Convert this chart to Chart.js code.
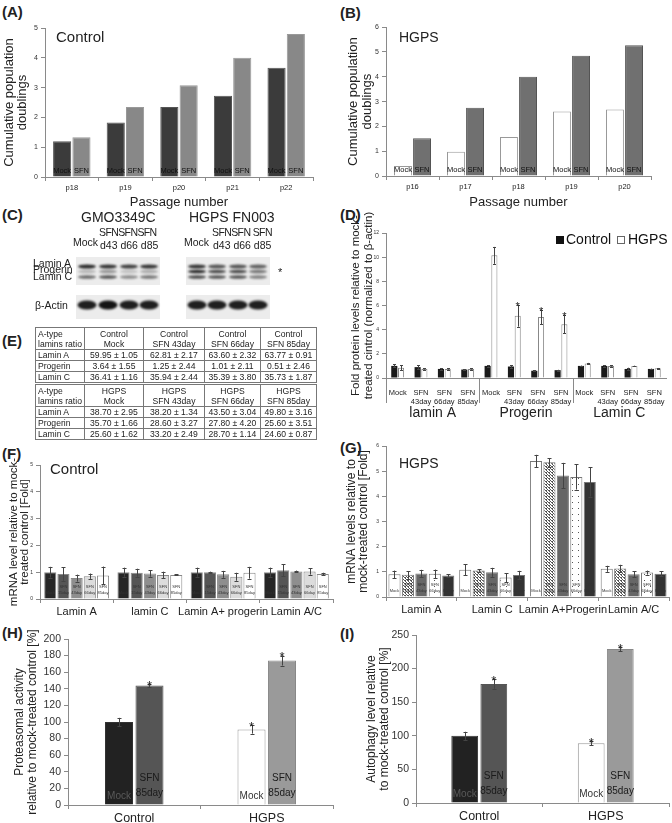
<!DOCTYPE html>
<html>
<head>
<meta charset="utf-8">
<script src="https://cdn.jsdelivr.net/npm/chart.js@4.4.1/dist/chart.umd.min.js"></script>
<style>
body { margin: 0; background: #fff; font-family: Arial, "Liberation Sans", sans-serif; color: #222; }
#wrap { position: relative; width: 672px; height: 823px; overflow: hidden; }
canvas { position: absolute; }
.t { position: absolute; white-space: nowrap; line-height: 1; }
.p { position: absolute; font-weight: bold; font-size: 15px; line-height: 1; }
table.e { position: absolute; border-collapse: collapse; font-size: 8.6px; line-height: 10px; }
table.e td { border: 1px solid #777; padding: 0 2px; text-align: center; white-space: nowrap; }
table.e td.n { text-align: left; }
</style>
</head>
<body>
<div id="wrap">
  <div class="p" style="left:2px;top:4px">(A)</div>
  <div class="p" style="left:340px;top:5px">(B)</div>
  <div class="p" style="left:2px;top:207px">(C)</div>
  <div class="p" style="left:340px;top:207px">(D)</div>
  <div class="p" style="left:2px;top:333px">(E)</div>
  <div class="p" style="left:2px;top:446px">(F)</div>
  <div class="p" style="left:340px;top:440px">(G)</div>
  <div class="p" style="left:2px;top:625px">(H)</div>
  <div class="p" style="left:340px;top:626px">(I)</div>

  <canvas id="cA" width="330" height="190" style="left:0;top:20px"></canvas>
  <canvas id="cB" width="336" height="190" style="left:336px;top:20px"></canvas>
  <canvas id="cD" width="336" height="210" style="left:336px;top:210px"></canvas>
  <canvas id="cF" width="336" height="175" style="left:0;top:445px"></canvas>
  <canvas id="cG" width="336" height="180" style="left:336px;top:440px"></canvas>
  <canvas id="cH" width="336" height="203" style="left:0;top:620px"></canvas>
  <canvas id="cI" width="336" height="203" style="left:336px;top:620px"></canvas>
  <canvas id="blot" width="220" height="75" style="left:70px;top:250px"></canvas>

  <div class="t" style="left:56px;top:29px;font-size:15px">Control</div>
  <div class="t" style="left:399px;top:30px;font-size:14px">HGPS</div>
  <div class="t" style="left:50px;top:461px;font-size:15px">Control</div>
  <div class="t" style="left:399px;top:456px;font-size:14px">HGPS</div>

  <!-- western blot labels -->
  <div class="t" style="left:81px;top:210px;font-size:14px">GMO3349C</div>
  <div class="t" style="left:189px;top:210px;font-size:14px">HGPS FN003</div>
  <div class="t" style="left:73px;top:237px;font-size:10.5px">Mock</div>
  <div class="t" style="left:99px;top:227px;font-size:10.5px;letter-spacing:-0.6px">SFNSFNSFN</div>
  <div class="t" style="left:100px;top:240px;font-size:10.5px">d43 d66 d85</div>
  <div class="t" style="left:184px;top:237px;font-size:10.5px">Mock</div>
  <div class="t" style="left:212px;top:227px;font-size:10.5px;letter-spacing:-0.6px">SFNSFN SFN</div>
  <div class="t" style="left:213px;top:240px;font-size:10.5px">d43 d66 d85</div>
  <div class="t" style="left:33px;top:258px;font-size:10.5px">Lamin A</div>
  <div class="t" style="left:33px;top:264px;font-size:10.5px">Progerin</div>
  <div class="t" style="left:33px;top:271px;font-size:10.5px">Lamin C</div>
  <div class="t" style="left:35px;top:300px;font-size:10.5px">β-Actin</div>
  <div class="t" style="left:278px;top:267px;font-size:11px">*</div>

  <table class="e" id="tE" style="left:35px;top:327px"></table>
</div>

<script>
// ---- data ----
var labelsA = ['p18', 'p19', 'p20', 'p21', 'p22'];
var mockA = [1.2, 1.83, 2.35, 2.73, 3.67];
var sfnA = [1.33, 2.35, 3.08, 4.0, 4.8];

var labelsB = ['p16', 'p17', 'p18', 'p19', 'p20'];
var mockB = [0.4, 0.98, 1.57, 2.6, 2.68];
var sfnB = [1.52, 2.75, 4.0, 4.85, 5.27];

var groupsD = ['lamin A', 'Progerin', 'Lamin C'];
var treatD = [['Mock'], ['SFN', '43day'], ['SFN', '66day'], ['SFN', '85day']];
var controlD = [1.0, 0.9, 0.75, 0.7, 1.0, 0.95, 0.6, 0.65, 1.0, 1.0, 0.75, 0.75];
var controlErrD = [0.12, 0.15, 0.05, 0.04, 0.05, 0.1, 0.03, 0.03, 0.03, 0.05, 0.1, 0.03];
var hgpsD = [0.85, 0.75, 0.75, 0.75, 10.15, 5.15, 5.05, 4.45, 1.2, 1.0, 1.0, 0.8];
var hgpsErrD = [0.2, 0.05, 0.05, 0.05, 0.7, 0.9, 0.6, 0.75, 0.05, 0.05, 0.02, 0.03];
var hgpsStarD = [0, 0, 0, 0, 0, 1, 1, 1, 0, 0, 0, 0];

var headE1 = [['A-type', 'lamins ratio'], ['Control', 'Mock'], ['Control', 'SFN 43day'], ['Control', 'SFN 66day'], ['Control', 'SFN 85day']];
var rowsE1 = [
  ['Lamin A', '59.95 ± 1.05', '62.81 ± 2.17', '63.60 ± 2.32', '63.77 ± 0.91'],
  ['Progerin', '3.64 ± 1.55', '1.25 ± 2.44', '1.01 ± 2.11', '0.51 ± 2.46'],
  ['Lamin C', '36.41 ± 1.16', '35.94 ± 2.44', '35.39 ± 3.80', '35.73 ± 1.87']
];
var headE2 = [['A-type', 'lamins ratio'], ['HGPS', 'Mock'], ['HGPS', 'SFN 43day'], ['HGPS', 'SFN 66day'], ['HGPS', 'SFN 85day']];
var rowsE2 = [
  ['Lamin A', '38.70 ± 2.95', '38.20 ± 1.34', '43.50 ± 3.04', '49.80 ± 3.16'],
  ['Progerin', '35.70 ± 1.66', '28.60 ± 3.27', '27.80 ± 4.20', '25.60 ± 3.51'],
  ['Lamin C', '25.60 ± 1.62', '33.20 ± 2.49', '28.70 ± 1.14', '24.60 ± 0.87']
];

var genesF = ['Lamin A', 'lamin C', 'Lamin A+ progerin', 'Lamin A/C'];
var treatF = [['Mock'], ['SFN', '15day'], ['SFN', '43day'], ['SFN', '66day'], ['SFN', '85day']];
var valsF = [[1.0, 1.0, 1.0, 1.0], [0.93, 0.98, 1.0, 1.07], [0.78, 0.95, 0.92, 1.03], [0.85, 0.9, 0.83, 1.03], [0.88, 0.9, 0.98, 0.93]];
var errF = [[0.2, 0.17, 0.17, 0.17], [0.25, 0.15, 0.02, 0.22], [0.13, 0.12, 0.13, 0.03], [0.1, 0.12, 0.15, 0.12], [0.33, 0.02, 0.22, 0.05]];

var genesG = ['Lamin A', 'Lamin C', 'Lamin A+Progerin', 'Lamin A/C'];
var valsG = [[0.9, 1.08, 5.4, 1.12], [0.88, 1.05, 5.35, 1.13], [0.93, 0.98, 4.83, 0.9], [0.92, 0.77, 4.77, 0.97], [0.85, 0.87, 4.57, 0.92]];
var errG = [[0.15, 0.22, 0.25, 0.12], [0.15, 0.05, 0.17, 0.15], [0.15, 0.18, 0.5, 0.12], [0.17, 0.18, 0.5, 0.08], [0.05, 0.17, 0.58, 0.1]];

var cellsHI = ['Control', 'HGPS'];
var mockH = [100, 91];
var mockErrH = [5, 5];
var sfnH = [144, 174];
var sfnErrH = [2, 6];
var mockI = [100, 89];
var mockErrI = [6, 3];
var sfnI = [177, 229];
var sfnErrI = [7, 3];
var mockStarHI = [0, 1];
var sfnStarHI = [1, 1];

// western blot band intensities (lanes: 4 GMO3349C + 4 HGPS)
var bandLaminA = [0.9, 0.85, 0.8, 0.85, 0.85, 0.7, 0.7, 0.65];
var bandProgerin = [0.25, 0.4, 0.2, 0.3, 0.9, 0.75, 0.75, 0.55];
var bandLaminC = [0.6, 0.7, 0.45, 0.55, 0.75, 0.7, 0.7, 0.5];
var bandActin = [0.95, 1, 0.95, 0.95, 0.95, 0.95, 0.95, 0.95];

// ---- helpers ----
var FONT = 'Arial, "Liberation Sans", sans-serif';
var AX = '#8a8a8a';

var extras = {
  id: 'extras',
  afterDatasetsDraw: function (chart) {
    var ctx = chart.ctx, ys = chart.scales.y;
    chart.data.datasets.forEach(function (ds, i) {
      var meta = chart.getDatasetMeta(i);
      meta.data.forEach(function (bar, j) {
        var v = ds.data[j];
        var top = bar.y;
        ctx.save();
        if (ds.err) {
          var e = ds.err[j];
          top = ys.getPixelForValue(v + e);
          var bot = ys.getPixelForValue(v - e);
          var cw = ds.capW || 2;
          ctx.strokeStyle = '#444';
          ctx.lineWidth = 1;
          ctx.beginPath();
          ctx.moveTo(Math.round(bar.x) + 0.5, top);
          ctx.lineTo(Math.round(bar.x) + 0.5, bot);
          ctx.moveTo(Math.round(bar.x) - cw + 0.5, Math.round(top) + 0.5);
          ctx.lineTo(Math.round(bar.x) + cw + 0.5, Math.round(top) + 0.5);
          ctx.moveTo(Math.round(bar.x) - cw + 0.5, Math.round(bot) + 0.5);
          ctx.lineTo(Math.round(bar.x) + cw + 0.5, Math.round(bot) + 0.5);
          ctx.stroke();
        }
        if (ds.star && ds.star[j]) {
          ctx.fillStyle = '#222';
          ctx.font = (ds.starSize || 12) + 'px ' + FONT;
          ctx.textAlign = 'center';
          ctx.textBaseline = 'alphabetic';
          ctx.fillText('*', bar.x, top + (ds.starSize || 12) * 0.45);
        }
        if (ds.inner) {
          var ic = ds.innerColor || '#111';
          ctx.fillStyle = Array.isArray(ic) ? ic[j] : ic;
          ctx.font = ds.innerFont;
          ctx.textAlign = 'center';
          ctx.textBaseline = 'middle';
          ds.inner.forEach(function (txt, k) {
            ctx.fillText(txt, bar.x, bar.base - ds.innerOff[k]);
          });
        }
        ctx.restore();
      });
    });
  }
};
Chart.register(extras);

function yAxis(w, max, step, tickFont, title, titleFont, titlePad, lh) {
  return {
    min: 0, max: max,
    afterFit: function (s) { s.width = w; },
    ticks: { stepSize: step, font: { size: tickFont, family: FONT }, color: '#333', padding: 3 },
    grid: { drawOnChartArea: false, tickLength: 4, color: AX },
    border: { color: AX },
    title: { display: true, text: title, color: '#222', font: { size: titleFont, family: FONT, lineHeight: lh }, padding: { top: titlePad, bottom: 0 } }
  };
}

function xAxis(h, tickFont, title, titleFont) {
  var o = {
    afterFit: function (s) { s.height = h; },
    ticks: { font: { size: tickFont, family: FONT }, color: '#222', padding: 2, maxRotation: 0, autoSkip: false },
    grid: { drawOnChartArea: false, tickLength: 4, color: AX },
    border: { color: AX }
  };
  if (title) {
    o.title = { display: true, text: title, color: '#222', font: { size: titleFont, family: FONT }, padding: { top: 0, bottom: 0 } };
  }
  return o;
}

function baseOpts(pad, x, y) {
  return {
    responsive: false, animation: false, devicePixelRatio: 1,
    layout: { padding: pad },
    plugins: { legend: { display: false }, tooltip: { enabled: false } },
    scales: { x: x, y: y }
  };
}

// ---- (A) ----
new Chart(document.getElementById('cA').getContext('2d'), {
  type: 'bar',
  data: {
    labels: labelsA,
    datasets: [
      { label: 'Mock', data: mockA, backgroundColor: '#3b3b3b', borderColor: '#555', borderWidth: 1, categoryPercentage: 0.72, barPercentage: 0.94, inner: ['Mock'], innerOff: [6], innerFont: '7.5px ' + FONT },
      { label: 'SFN', data: sfnA, backgroundColor: '#888', borderColor: '#999', borderWidth: 1, categoryPercentage: 0.72, barPercentage: 0.94, inner: ['SFN'], innerOff: [6], innerFont: '7.5px ' + FONT }
    ]
  },
  options: baseOpts({ top: 8, right: 17, left: 0, bottom: 0 },
    xAxis(33, 7.5, 'Passage number', 13),
    yAxis(45, 5, 1, 7, ['Cumulative population', 'doublings'], 13, 3, 1.0))
});

// ---- (B) ----
new Chart(document.getElementById('cB').getContext('2d'), {
  type: 'bar',
  data: {
    labels: labelsB,
    datasets: [
      { label: 'Mock', data: mockB, backgroundColor: '#fff', borderColor: '#999', borderWidth: 1, categoryPercentage: 0.72, barPercentage: 0.94, inner: ['Mock'], innerOff: [6], innerFont: '7.5px ' + FONT },
      { label: 'SFN', data: sfnB, backgroundColor: '#707070', borderColor: '#555', borderWidth: 1, categoryPercentage: 0.72, barPercentage: 0.94, inner: ['SFN'], innerOff: [6], innerFont: '7.5px ' + FONT }
    ]
  },
  options: baseOpts({ top: 6, right: 21, left: 0, bottom: 0 },
    xAxis(34, 7.5, 'Passage number', 13),
    yAxis(50, 6, 1, 7, ['Cumulative population', 'doublings'], 13, 10, 1.1))
});

// ---- (D) ----
var labelsD = [];
groupsD.forEach(function () { treatD.forEach(function (t) { labelsD.push(t); }); });
var groupPlugin = {
  id: 'groupsD',
  afterDraw: function (chart) {
    var ctx = chart.ctx, xs = chart.scales.x, ca = chart.chartArea;
    ctx.save();
    ctx.strokeStyle = AX;
    ctx.lineWidth = 1;
    ctx.beginPath();
    [0, 4, 8].forEach(function (k) {
      var px = k === 0 ? ca.left : (xs.getPixelForValue(k - 1) + xs.getPixelForValue(k)) / 2;
      px = Math.round(px) + 0.5;
      ctx.moveTo(px, ca.bottom);
      ctx.lineTo(px, ca.bottom + 25);
    });
    ctx.stroke();
    ctx.fillStyle = '#222';
    ctx.font = '14px ' + FONT;
    ctx.textAlign = 'center';
    ctx.textBaseline = 'middle';
    groupsD.forEach(function (g, i) {
      var px = (xs.getPixelForValue(i * 4 + 1) + xs.getPixelForValue(i * 4 + 2)) / 2;
      ctx.fillText(g, px, ca.bottom + 35);
    });
    // legend
    ctx.textAlign = 'left';
    ctx.fillStyle = '#111';
    ctx.fillRect(556 - 336, 240 - 210 - 4, 8, 8);
    ctx.fillText('Control', 566 - 336, 240 - 210);
    ctx.strokeStyle = '#666';
    ctx.strokeRect(617.5 - 336, 240 - 210 - 3.5, 7, 7);
    ctx.fillText('HGPS', 628 - 336, 240 - 210);
    ctx.restore();
  }
};
var xD = xAxis(42, 7.5);
xD.grid = { display: false };
new Chart(document.getElementById('cD').getContext('2d'), {
  type: 'bar',
  data: {
    labels: labelsD,
    datasets: [
      { label: 'Control', data: controlD, err: controlErrD, backgroundColor: '#1a1a1a', borderColor: '#1a1a1a', borderWidth: 0, categoryPercentage: 0.58, barPercentage: 0.9, capW: 1.5 },
      { label: 'HGPS', data: hgpsD, err: hgpsErrD, star: hgpsStarD, starSize: 11, backgroundColor: '#fff', borderColor: '#888', borderWidth: 1, categoryPercentage: 0.58, barPercentage: 0.9, capW: 1.5 }
    ]
  },
  options: baseOpts({ top: 23, right: 6, left: 0, bottom: 0 },
    xD,
    yAxis(50, 12, 2, 5, ['Fold protein levels relative to mock-', 'treated cintrol (normalized to β-actin)'], 11.5, 14, 1.1)),
  plugins: [groupPlugin]
});

// ---- (E) table ----
(function () {
  var t = document.getElementById('tE');
  var colW = [48, 59, 61, 56, 56];
  function block(head, rows, topBorder) {
    var tr = document.createElement('tr');
    head.forEach(function (h, i) {
      var td = document.createElement('td');
      td.innerHTML = h.join('<br>');
      td.style.width = (colW[i] - 5) + 'px';
      td.style.height = '21px';
      if (i === 0) td.className = 'n';
      if (topBorder) td.style.borderTop = '3px double #777';
      tr.appendChild(td);
    });
    t.appendChild(tr);
    rows.forEach(function (r) {
      var tr2 = document.createElement('tr');
      r.forEach(function (c, i) {
        var td = document.createElement('td');
        td.textContent = c;
        td.style.height = '10px';
        if (i === 0) td.className = 'n';
        tr2.appendChild(td);
      });
      t.appendChild(tr2);
    });
  }
  block(headE1, rowsE1, false);
  block(headE2, rowsE2, true);
})();

// ---- (F) ----
var colorsF = ['#262626', '#555555', '#8e8e8e', '#dcdcdc', '#ffffff'];
var dsF = treatF.map(function (t, i) {
  return {
    label: t.join(' '), data: valsF[i], err: errF[i],
    backgroundColor: colorsF[i], borderColor: '#888', borderWidth: 1,
    categoryPercentage: 0.9, barPercentage: 0.92, capW: 2,
    inner: t, innerOff: t.length === 1 ? [6] : [12, 6], innerFont: '4px ' + FONT, innerColor: '#333'
  };
});
new Chart(document.getElementById('cF').getContext('2d'), {
  type: 'bar',
  data: { labels: genesF, datasets: dsF },
  options: baseOpts({ top: 20, right: 3, left: 0, bottom: 0 },
    xAxis(21, 11),
    yAxis(40, 5, 1, 5, ['mRNA level relative to mock-', 'treated control [Fold]'], 11.5, 8, 1.0))
});

// ---- (G) ----
function makePattern(size, dots) {
  var c = document.createElement('canvas');
  c.width = size; c.height = size;
  var g = c.getContext('2d');
  g.fillStyle = '#fff';
  g.fillRect(0, 0, size, size);
  g.fillStyle = '#555';
  dots.forEach(function (d) { g.fillRect(d[0], d[1], 1, 1); });
  return g.createPattern(c, 'repeat');
}
var fillG = ['#ffffff', makePattern(3, [[0, 0], [1, 1], [2, 2], [0, 2]]), '#666666', makePattern(6, [[2, 2]]), '#333333'];
var dsG = treatF.map(function (t, i) {
  return {
    label: t.join(' '), data: valsG[i], err: errG[i],
    backgroundColor: fillG[i], borderColor: '#777', borderWidth: 1,
    categoryPercentage: 0.95, barPercentage: 0.9, capW: 2,
    inner: t, innerOff: t.length === 1 ? [6] : [12, 6], innerFont: '4px ' + FONT, innerColor: '#333'
  };
});
new Chart(document.getElementById('cG').getContext('2d'), {
  type: 'bar',
  data: { labels: genesG, datasets: dsG },
  options: baseOpts({ top: 6, right: 3, left: 0, bottom: 0 },
    xAxis(23, 11),
    yAxis(50, 6, 1, 5, ['mRNA levels relative to', 'mock-treated control [Fold]'], 12, 9, 1.05))
});

// ---- (H) and (I) ----
function hiChart(id, mock, mockErr, sfn, sfnErr, max, step, yw, title, tpad, padTop, xh) {
  new Chart(document.getElementById(id).getContext('2d'), {
    type: 'bar',
    data: {
      labels: cellsHI,
      datasets: [
        { label: 'Mock', data: mock, err: mockErr, star: mockStarHI, starSize: 13, backgroundColor: ['#222222', '#ffffff'], borderColor: ['#333', '#999'], borderWidth: 1, categoryPercentage: 0.46, barPercentage: 0.92, capW: 2, inner: ['Mock'], innerOff: [8], innerFont: '10px ' + FONT, innerColor: ['#5a5a5a', '#333'] },
        { label: 'SFN 85day', data: sfn, err: sfnErr, star: sfnStarHI, starSize: 13, backgroundColor: ['#555555', '#9a9a9a'], borderColor: ['#555', '#888'], borderWidth: 1, categoryPercentage: 0.46, barPercentage: 0.92, capW: 2, inner: ['SFN', '85day'], innerOff: [26, 11], innerFont: '10px ' + FONT, innerColor: '#1a1a1a' }
      ]
    },
    options: baseOpts({ top: padTop, right: 3, left: 0, bottom: 0 },
      xAxis(xh, 12.5),
      yAxis(yw, max, step, 10.5, title, 12, tpad, 1.1))
  });
}
hiChart('cH', mockH, mockErrH, sfnH, sfnErrH, 200, 20, 68, ['Proteasomal activity', 'relative to mock-treated control [%]'], 13, 19, 18);
hiChart('cI', mockI, mockErrI, sfnI, sfnErrI, 250, 50, 80, ['Autophagy level relative', 'to mock-treated control [%]'], 29, 15, 20);

// ---- (C) western blot picture ----
(function () {
  var g = document.getElementById('blot').getContext('2d');
  var ox = 70, oy = 250;
  var lanes = [87, 108, 129, 149, 197, 217, 238, 258];
  g.fillStyle = '#ececec';
  g.fillRect(76 - ox, 257 - oy, 84, 28);
  g.fillRect(186 - ox, 257 - oy, 84, 28);
  g.fillRect(76 - ox, 295 - oy, 84, 24);
  g.fillRect(186 - ox, 295 - oy, 84, 24);
  g.filter = 'blur(1.1px)';
  function band(cx, cy, w, h, a) {
    g.fillStyle = 'rgba(20,20,20,' + a + ')';
    g.beginPath();
    g.ellipse(cx - ox, cy - oy, w / 2, h / 2, 0, 0, Math.PI * 2);
    g.fill();
  }
  lanes.forEach(function (x, i) {
    band(x, 266.5, 18, 4, bandLaminA[i]);
    band(x, 271.5, 18, 3.5, bandProgerin[i]);
    band(x, 277, 18, 3.5, bandLaminC[i]);
    band(x, 305, 19, 9, bandActin[i]);
  });
})();
</script>
</body>
</html>
